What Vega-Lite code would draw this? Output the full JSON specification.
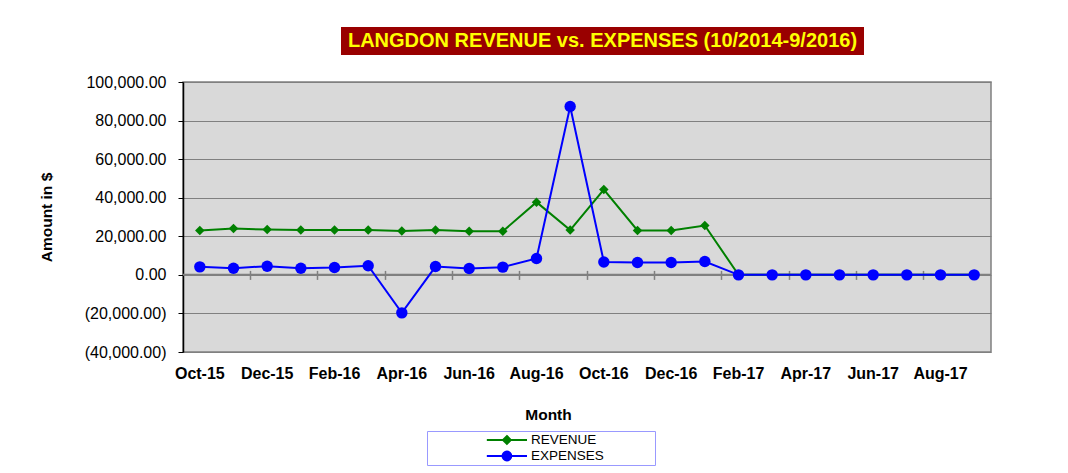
{
  "$schema": "https://vega.github.io/schema/vega-lite/v6.json",
  "background": "white",
  "padding": {"left": 38, "top": 27, "right": 10, "bottom": 5},
  "config": {"font": "Liberation Sans", "view": {"stroke": null}},
  "datasets": {
    "fin": [
      {"Month": "Oct-15", "Series": "REVENUE", "Amount": 23000},
      {"Month": "Nov-15", "Series": "REVENUE", "Amount": 24000},
      {"Month": "Dec-15", "Series": "REVENUE", "Amount": 23500},
      {"Month": "Jan-16", "Series": "REVENUE", "Amount": 23300},
      {"Month": "Feb-16", "Series": "REVENUE", "Amount": 23300},
      {"Month": "Mar-16", "Series": "REVENUE", "Amount": 23300},
      {"Month": "Apr-16", "Series": "REVENUE", "Amount": 22800},
      {"Month": "May-16", "Series": "REVENUE", "Amount": 23300},
      {"Month": "Jun-16", "Series": "REVENUE", "Amount": 22600},
      {"Month": "Jul-16", "Series": "REVENUE", "Amount": 22600},
      {"Month": "Aug-16", "Series": "REVENUE", "Amount": 37700},
      {"Month": "Sep-16", "Series": "REVENUE", "Amount": 23200},
      {"Month": "Oct-16", "Series": "REVENUE", "Amount": 44200},
      {"Month": "Nov-16", "Series": "REVENUE", "Amount": 23000},
      {"Month": "Dec-16", "Series": "REVENUE", "Amount": 23000},
      {"Month": "Jan-17", "Series": "REVENUE", "Amount": 25600},
      {"Month": "Feb-17", "Series": "REVENUE", "Amount": 0},
      {"Month": "Mar-17", "Series": "REVENUE", "Amount": 0},
      {"Month": "Apr-17", "Series": "REVENUE", "Amount": 0},
      {"Month": "May-17", "Series": "REVENUE", "Amount": 0},
      {"Month": "Jun-17", "Series": "REVENUE", "Amount": 0},
      {"Month": "Jul-17", "Series": "REVENUE", "Amount": 0},
      {"Month": "Aug-17", "Series": "REVENUE", "Amount": 0},
      {"Month": "Sep-17", "Series": "REVENUE", "Amount": 0},
      {"Month": "Oct-15", "Series": "EXPENSES", "Amount": 4150},
      {"Month": "Nov-15", "Series": "EXPENSES", "Amount": 3450},
      {"Month": "Dec-15", "Series": "EXPENSES", "Amount": 4500},
      {"Month": "Jan-16", "Series": "EXPENSES", "Amount": 3450},
      {"Month": "Feb-16", "Series": "EXPENSES", "Amount": 3800},
      {"Month": "Mar-16", "Series": "EXPENSES", "Amount": 4700},
      {"Month": "Apr-16", "Series": "EXPENSES", "Amount": -19700},
      {"Month": "May-16", "Series": "EXPENSES", "Amount": 4300},
      {"Month": "Jun-16", "Series": "EXPENSES", "Amount": 3300},
      {"Month": "Jul-16", "Series": "EXPENSES", "Amount": 4000},
      {"Month": "Aug-16", "Series": "EXPENSES", "Amount": 8500},
      {"Month": "Sep-16", "Series": "EXPENSES", "Amount": 87300},
      {"Month": "Oct-16", "Series": "EXPENSES", "Amount": 6700},
      {"Month": "Nov-16", "Series": "EXPENSES", "Amount": 6400},
      {"Month": "Dec-16", "Series": "EXPENSES", "Amount": 6400},
      {"Month": "Jan-17", "Series": "EXPENSES", "Amount": 6900},
      {"Month": "Feb-17", "Series": "EXPENSES", "Amount": 0},
      {"Month": "Mar-17", "Series": "EXPENSES", "Amount": 0},
      {"Month": "Apr-17", "Series": "EXPENSES", "Amount": 0},
      {"Month": "May-17", "Series": "EXPENSES", "Amount": 0},
      {"Month": "Jun-17", "Series": "EXPENSES", "Amount": 0},
      {"Month": "Jul-17", "Series": "EXPENSES", "Amount": 0},
      {"Month": "Aug-17", "Series": "EXPENSES", "Amount": 0},
      {"Month": "Sep-17", "Series": "EXPENSES", "Amount": 0}
    ]
  },
  "spacing": 55,
  "bounds": "flush",
  "center": false,
  "resolve": {"scale": {"color": "independent"}, "legend": {"color": "independent"}},
  "vconcat": [
    {
      "hconcat": [
        {
          "width": 158,
          "height": 28,
          "data": {"values": []},
          "mark": {"type": "point", "opacity": 0},
          "encoding": {}
        },
        {
          "width": 523,
          "height": 28,
          "view": {"fill": "#990000", "stroke": null},
          "data": {"values": [{"t": "LANGDON REVENUE vs. EXPENSES (10/2014-9/2016)"}]},
          "mark": {"type": "text", "font": "Liberation Sans", "fontSize": 20, "fontWeight": "bold", "color": "#ffff00", "baseline": "middle", "align": "center"},
          "encoding": {"text": {"field": "t"}}
        }
      ],
      "spacing": 0,
      "bounds": "flush"
    },
    {
      "width": 808,
      "height": 270,
      "view": {"fill": "#d9d9d9", "stroke": "#808080", "strokeWidth": 1.5},
      "data": {"name": "fin"},
      "layer": [
        {
          "data": {"values": [{}]},
          "mark": {"type": "rule", "color": "#808080", "strokeWidth": 2},
          "encoding": {
            "y": {
              "datum": 0, "type": "quantitative",
              "scale": {"domain": [-40000, 100000]},
              "axis": {
                "values": [-40000, -20000, 0, 20000, 40000, 60000, 80000, 100000],
                "labelExpr": "datum.value < 0 ? '(' + format(-datum.value, ',.2f') + ')' : format(datum.value, ',.2f')",
                "labelFontSize": 16, "labelColor": "#000000", "labelPadding": 12, "labelOverlap": false,
                "tickSize": 5, "tickColor": "#000000", "domainColor": "#000000", "domainWidth": 1.5,
                "grid": true, "gridColor": "#808080", "gridWidth": 1,
                "title": "Amount in $", "titleFontSize": 15.5, "titleFontWeight": "bold", "titleColor": "#000000", "titlePadding": 30
              }
            }
          }
        },
        {
          "transform": [{"filter": "datum.Series === 'REVENUE'"}],
          "mark": {"type": "line", "strokeWidth": 2, "point": {"filled": true, "shape": "diamond", "size": 90}},
          "encoding": {
            "x": {
              "field": "Month", "type": "ordinal", "sort": null,
              "scale": {"type": "band", "paddingInner": 0, "paddingOuter": 0},
              "axis": {
                "values": ["Oct-15", "Dec-15", "Feb-16", "Apr-16", "Jun-16", "Aug-16", "Oct-16", "Dec-16", "Feb-17", "Apr-17", "Jun-17", "Aug-17"],
                "labelAngle": 0, "labelFontSize": 16, "labelFontWeight": "bold", "labelColor": "#000000",
                "labelPadding": 13, "ticks": false, "domain": false, "labelOverlap": false,
                "title": "Month", "titleFontSize": 15.5, "titleFontWeight": "bold", "titleColor": "#000000",
                "titlePadding": 26, "titleX": 365
              }
            },
            "y": {
              "field": "Amount", "type": "quantitative",
              "scale": {"domain": [-40000, 100000]},
              "axis": {
                "values": [-40000, -20000, 0, 20000, 40000, 60000, 80000, 100000],
                "labelExpr": "datum.value < 0 ? '(' + format(-datum.value, ',.2f') + ')' : format(datum.value, ',.2f')",
                "labelFontSize": 16, "labelColor": "#000000", "labelPadding": 12, "labelOverlap": false,
                "tickSize": 5, "tickColor": "#000000", "domainColor": "#000000", "domainWidth": 1.5,
                "grid": true, "gridColor": "#808080", "gridWidth": 1,
                "title": "Amount in $", "titleFontSize": 15.5, "titleFontWeight": "bold", "titleColor": "#000000", "titlePadding": 30
              }
            },
            "color": {
              "field": "Series", "type": "nominal",
              "scale": {"domain": ["REVENUE", "EXPENSES"], "range": ["#008000", "#0000ff"]},
              "legend": {
                "title": null, "orient": "none", "legendX": 244, "legendY": 349,
                "strokeColor": "#9999ff", "fillColor": "#ffffff", "padding": 1,
                "symbolSize": 9604, "clipHeight": 16, "rowPadding": 0,
                "labelFontSize": 13.5, "labelColor": "#000000", "labelOffset": 3, "labelLimit": 200,
                "labelExpr": "datum.label + '\u2800\u2800\u2800\u2800\u2800'",
                "encode": {
                  "symbols": {
                    "update": {
                      "shape": {"signal": "datum.value === 'REVENUE' ? 'M0.18,0H1M0.59,-0.08L0.67,0L0.59,0.08L0.51,0Z' : 'M0.18,0H1M0.68,0A0.09,0.09,0,1,1,0.5,0A0.09,0.09,0,1,1,0.68,0Z'"},
                      "fill": {"signal": "datum.value === 'REVENUE' ? '#008000' : '#0000ff'"},
                      "stroke": {"signal": "datum.value === 'REVENUE' ? '#008000' : '#0000ff'"},
                      "strokeWidth": {"value": 2},
                      "opacity": {"value": 1}
                    }
                  }
                }
              }
            }
          }
        },
        {
          "transform": [{"filter": "datum.Series === 'EXPENSES'"}],
          "mark": {"type": "line", "strokeWidth": 2, "point": {"filled": true, "shape": "circle", "size": 130}},
          "encoding": {
            "x": {
              "field": "Month", "type": "ordinal", "sort": null,
              "scale": {"type": "band", "paddingInner": 0, "paddingOuter": 0},
              "axis": {
                "orient": "bottom", "offset": -81.6, "bandPosition": 0,
                "values": ["Dec-15", "Feb-16", "Apr-16", "Jun-16", "Aug-16", "Oct-16", "Dec-16", "Feb-17", "Apr-17", "Jun-17", "Aug-17"],
                "labels": false, "domain": false, "ticks": true, "tickSize": 9, "tickColor": "#808080", "tickWidth": 1.5,
                "title": null
              }
            },
            "y": {
              "field": "Amount", "type": "quantitative",
              "scale": {"domain": [-40000, 100000]},
              "axis": {
                "values": [-40000, -20000, 0, 20000, 40000, 60000, 80000, 100000],
                "labelExpr": "datum.value < 0 ? '(' + format(-datum.value, ',.2f') + ')' : format(datum.value, ',.2f')",
                "labelFontSize": 16, "labelColor": "#000000", "labelPadding": 12, "labelOverlap": false,
                "tickSize": 5, "tickColor": "#000000", "domainColor": "#000000", "domainWidth": 1.5,
                "grid": true, "gridColor": "#808080", "gridWidth": 1,
                "title": "Amount in $", "titleFontSize": 15.5, "titleFontWeight": "bold", "titleColor": "#000000", "titlePadding": 30
              }
            },
            "color": {"field": "Series", "type": "nominal"}
          }
        }
      ],
      "resolve": {"axis": {"x": "independent"}}
    }
  ]
}
